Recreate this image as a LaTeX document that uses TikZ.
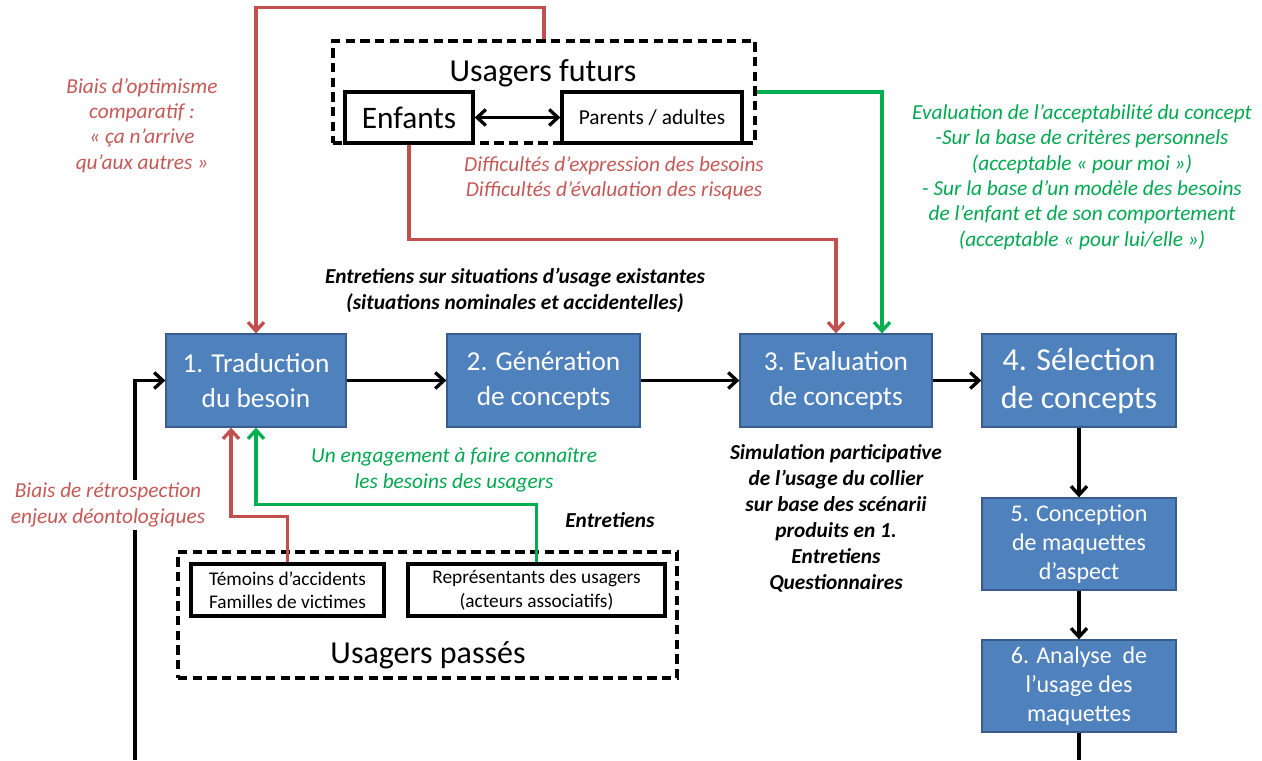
\documentclass[tikz,border=0pt]{standalone}
\usepackage{fontspec}
\setmainfont{Carlito}
\usetikzlibrary{arrows.meta}
\definecolor{boxblue}{RGB}{79,129,189}
\definecolor{boxedge}{RGB}{56,93,138}
\definecolor{myred}{RGB}{192,80,77}
\definecolor{mygreen}{RGB}{0,176,80}
\definecolor{txtred}{RGB}{196,89,86}
\definecolor{txtgreen}{RGB}{0,168,80}
\tikzset{
  stepbox/.style={draw=boxedge, line width=1pt, fill=boxblue, text=white, align=center, inner sep=0pt},
  dashbox/.style={draw=black, dash pattern=on 7pt off 4pt, line width=2.3pt, inner sep=0pt},
  whitebox/.style={draw=black, line width=2.5pt, fill=white, inner sep=0pt, align=center},
  tip/.style={Straight Barb[length=6.5pt,width=12pt]},
  blk/.style={draw=black, line width=2.5pt, -{Straight Barb[length=6.5pt,width=12pt]}},
  redl/.style={draw=myred, line width=2.5pt, -{Straight Barb[length=6.5pt,width=12pt]}},
  grnl/.style={draw=mygreen, line width=2.5pt, -{Straight Barb[length=6.5pt,width=12pt]}},
  redtxt/.style={text=txtred, align=center, font=\fontsize{16pt}{19pt}\selectfont\itshape},
  grntxt/.style={text=txtgreen, align=center, font=\fontsize{16pt}{19pt}\selectfont\itshape},
  bitxt/.style={text=black, align=center, font=\fontsize{16pt}{19.5pt}\selectfont\bfseries\itshape},
}
\begin{document}
\begin{tikzpicture}[x=0.75pt,y=-0.75pt]
\useasboundingbox[fill=white] (0,0) rectangle (1262,760);

% main boxes
\node[stepbox, minimum width={180*0.75pt}, minimum height={93*0.75pt}, font=\fontsize{20.5pt}{26pt}\selectfont] (b1) at (256,380.5) {1. Traduction\\du besoin};
\node[stepbox, minimum width={193*0.75pt}, minimum height={93*0.75pt}, font=\fontsize{20.5pt}{26pt}\selectfont] (b2) at (543.5,380.5) {2. Génération\\de concepts};
\node[stepbox, minimum width={192*0.75pt}, minimum height={93*0.75pt}, font=\fontsize{20.5pt}{26pt}\selectfont] (b3) at (836,380.5) {3. Evaluation\\de concepts};
\node[stepbox, minimum width={194*0.75pt}, minimum height={93*0.75pt}, font=\fontsize{24pt}{28.5pt}\selectfont] (b4) at (1079,380.5) {4. Sélection\\de concepts};
\node[stepbox, minimum width={194*0.75pt}, minimum height={92*0.75pt}, font=\fontsize{18pt}{22pt}\selectfont] (b5) at (1079,544) {5. Conception\\de maquettes\\d’aspect};
\node[stepbox, minimum width={194*0.75pt}, minimum height={92*0.75pt}, font=\fontsize{18pt}{22pt}\selectfont] (b6) at (1079,686) {6. Analyse\ \ de\\l’usage des\\maquettes};

% future users
\node[dashbox, minimum width={422*0.75pt}, minimum height={102*0.75pt}] (futurs) at (544,92) {};
\node[font=\fontsize{24pt}{28pt}\selectfont] (futlab) at (543,73) {Usagers futurs};
\node[whitebox, minimum width={128*0.75pt}, minimum height={51*0.75pt}, font=\fontsize{23.5pt}{27pt}\selectfont] (enfants) at (409,117.5) {Enfants};
\node[whitebox, minimum width={180*0.75pt}, minimum height={51*0.75pt}, font=\fontsize{16pt}{19pt}\selectfont] (parents) at (652,117.5) {Parents / adultes};
\draw[draw=black, line width=2.5pt, {Straight Barb[length=6.5pt,width=12pt]}-{Straight Barb[length=6.5pt,width=12pt]}] (enfants) -- (parents);

% past users
\node[dashbox, minimum width={499*0.75pt}, minimum height={126*0.75pt}] (passes) at (427.5,615) {};
\node[font=\fontsize{24pt}{28pt}\selectfont] (paslab) at (428,655) {Usagers passés};
\node[whitebox, minimum width={193*0.75pt}, minimum height={52*0.75pt}, font=\fontsize{14.5pt}{17.5pt}\selectfont] (temoins) at (287.5,590) {Témoins d’accidents\\Familles de victimes};
\node[whitebox, minimum width={257*0.75pt}, minimum height={52*0.75pt}, font=\fontsize{14.5pt}{17.5pt}\selectfont] (repr) at (536.5,590) {Représentants des usagers\\(acteurs associatifs)};

% process arrows
\draw[blk] (b1) -- (b2);
\draw[blk] (b2) -- (b3);
\draw[blk] (b3) -- (b4);
\draw[blk] (b4) -- (b5);
\draw[blk] (b5) -- (b6);
\coordinate (botR) at (1079,760);
\coordinate (botL) at (135,760);
\draw[draw=black, line width=2.5pt] (b6.south) -- (botR);
\draw[blk] (botL) |- (b1.west);

% red and green connectors
\draw[redl] (futurs.north) -- ++(0,-32) -| (b1.north);
\draw[redl] (enfants.south) -- ++(0,95) -| (b3.north);
\draw[grnl] (futurs.east) -| ([xshift=34.5pt]b3.north);
\draw[redl] (temoins.north) -- ++(0,-46) -| ([xshift=-18.75pt]b1.south);
\draw[grnl] (repr.north) -- ++(0,-58) -| (b1.south);

% labels
\node[redtxt] (optim) at (142,125.5) {Biais d’optimisme\\comparatif :\\« ça n’arrive\\qu’aux autres »};
\node[redtxt] (diffic) at (614,178) {Difficultés d’expression des besoins\\Difficultés d’évaluation des risques};
\node[bitxt] (entsit) at (515,290) {Entretiens sur situations d’usage existantes\\(situations nominales et accidentelles)};
\node[grntxt] (accept) at (1082,177) {Evaluation de l’acceptabilité du concept\\-Sur la base de critères personnels\\(acceptable « pour moi »)\\- Sur la base d’un modèle des besoins\\de l’enfant et de son comportement\\(acceptable « pour lui/elle »)};
\node[grntxt] (engag) at (454,470) {Un engagement à faire connaître\\les besoins des usagers};
\node[redtxt, fill=white, inner sep=2pt] (retro) at (108,505) {Biais de rétrospection\\enjeux déontologiques};
\node[bitxt] (entr) at (610,520) {Entretiens};
\node[bitxt] (simul) at (836,518) {Simulation participative\\de l’usage du collier\\sur base des scénarii\\produits en 1.\\Entretiens\\Questionnaires};
\end{tikzpicture}
\end{document}
